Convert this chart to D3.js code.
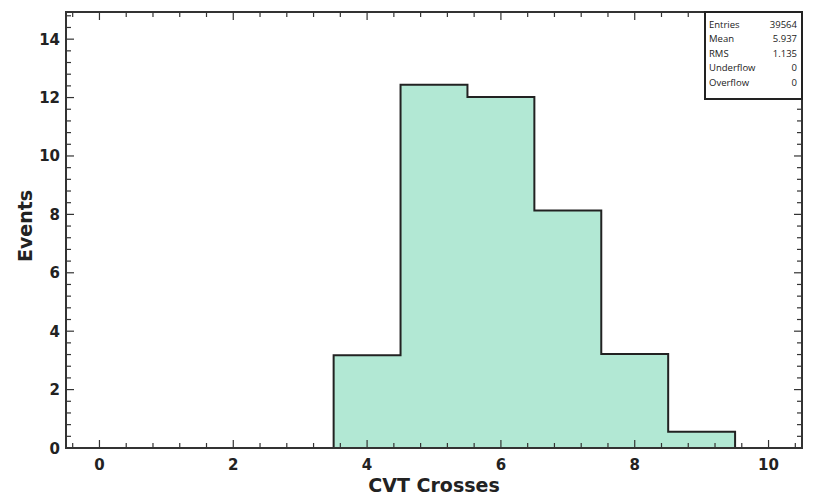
<!DOCTYPE html>
<html>
<head>
<meta charset="utf-8">
<script src="https://cdn.jsdelivr.net/npm/d3@7"></script>
<style>
  body { margin: 0; background: #fff; }
  svg { display: block; font-family: "DejaVu Sans", sans-serif; }
</style>
</head>
<body>
<svg id="chart" width="814" height="501"></svg>
<script>
// Histogram of CVT crossings (counts in thousands)
const binLow = [3.5, 4.5, 5.5, 6.5, 7.5, 8.5];
const binHigh = [4.5, 5.5, 6.5, 7.5, 8.5, 9.5];
const counts = [3.18, 12.44, 12.02, 8.13, 3.22, 0.56];
const xTicks = [0, 2, 4, 6, 8, 10];
const yTicks = [0, 2, 4, 6, 8, 10, 12, 14];
const statLabels = ["Entries", "Mean", "RMS", "Underflow", "Overflow"];
const statValues = ["39564", "5.937", "1.135", "0", "0"];

const svg = d3.select("#chart");
const m = { left: 66, right: 802, top: 12, bottom: 448 };

const x = d3.scaleLinear().domain([-0.5, 10.5]).range([m.left, m.right]);
const y = d3.scaleLinear().domain([0, 14.93]).range([m.bottom, m.top]);

// filled step outline
const pts = [[binLow[0], 0]];
counts.forEach((c, i) => { pts.push([binLow[i], c]); pts.push([binHigh[i], c]); });
pts.push([binHigh[binHigh.length - 1], 0]);
const line = d3.line().x(d => x(d[0])).y(d => y(d[1]));

svg.append("path")
  .attr("d", line(pts) + "Z")
  .attr("fill", "#b2e8d4")
  .attr("stroke", "none");
svg.append("path")
  .attr("d", line(pts))
  .attr("fill", "none")
  .attr("stroke", "#222")
  .attr("stroke-width", 2);

// minor / major ticks on all four sides (pointing inward)
const minorX = d3.range(-0.4, 10.5, 0.4).filter(v => v <= 10.5);
const minorY = d3.range(0.4, 14.93, 0.4);
const tickG = svg.append("g").attr("stroke", "#333").attr("stroke-width", 1.2);

minorX.forEach(v => {
  const major = xTicks.some(t => Math.abs(t - v) < 1e-6);
  const len = major ? 8 : 5;
  tickG.append("line").attr("x1", x(v)).attr("x2", x(v)).attr("y1", m.bottom).attr("y2", m.bottom - len);
  tickG.append("line").attr("x1", x(v)).attr("x2", x(v)).attr("y1", m.top).attr("y2", m.top + len);
});
minorY.forEach(v => {
  const major = yTicks.some(t => Math.abs(t - v) < 1e-6);
  const len = major ? 8 : 5;
  tickG.append("line").attr("y1", y(v)).attr("y2", y(v)).attr("x1", m.left).attr("x2", m.left + len);
  tickG.append("line").attr("y1", y(v)).attr("y2", y(v)).attr("x1", m.right).attr("x2", m.right - len);
});

// frame
svg.append("rect")
  .attr("x", m.left).attr("y", m.top)
  .attr("width", m.right - m.left).attr("height", m.bottom - m.top)
  .attr("fill", "none").attr("stroke", "#333").attr("stroke-width", 2);

// tick labels
svg.append("g").selectAll("text").data(xTicks).join("text")
  .attr("x", d => x(d)).attr("y", m.bottom + 22)
  .attr("text-anchor", "middle")
  .attr("font-size", 15).attr("font-weight", "bold").attr("fill", "#222")
  .text(d => d);
svg.append("g").selectAll("text").data(yTicks).join("text")
  .attr("x", m.left - 6).attr("y", d => y(d) + 5.5)
  .attr("text-anchor", "end")
  .attr("font-size", 15).attr("font-weight", "bold").attr("fill", "#222")
  .text(d => d);

// axis titles
svg.append("text")
  .attr("x", x(5)).attr("y", 492)
  .attr("text-anchor", "middle")
  .attr("font-size", 19).attr("font-weight", "bold").attr("fill", "#222")
  .text("CVT Crosses");
svg.append("text")
  .attr("transform", "translate(32, 226) rotate(-90)")
  .attr("text-anchor", "middle")
  .attr("font-size", 19).attr("font-weight", "bold").attr("fill", "#222")
  .text("Events");

// statistics box
const box = { x0: 705, y0: 12, x1: 802, y1: 99 };
svg.append("rect")
  .attr("x", box.x0).attr("y", box.y0)
  .attr("width", box.x1 - box.x0).attr("height", box.y1 - box.y0)
  .attr("fill", "#fff").attr("stroke", "#222").attr("stroke-width", 2);
const sg = svg.append("g").attr("font-size", 9.5).attr("fill", "#222")
  .attr("font-family", "'Open Sans', 'DejaVu Sans', sans-serif");
statLabels.forEach((s, i) => {
  sg.append("text").attr("x", box.x0 + 4).attr("y", 27.5 + i * 14.5).text(s);
  sg.append("text").attr("x", box.x1 - 5).attr("y", 27.5 + i * 14.5)
    .attr("text-anchor", "end").text(statValues[i]);
});
</script>
</body>
</html>
